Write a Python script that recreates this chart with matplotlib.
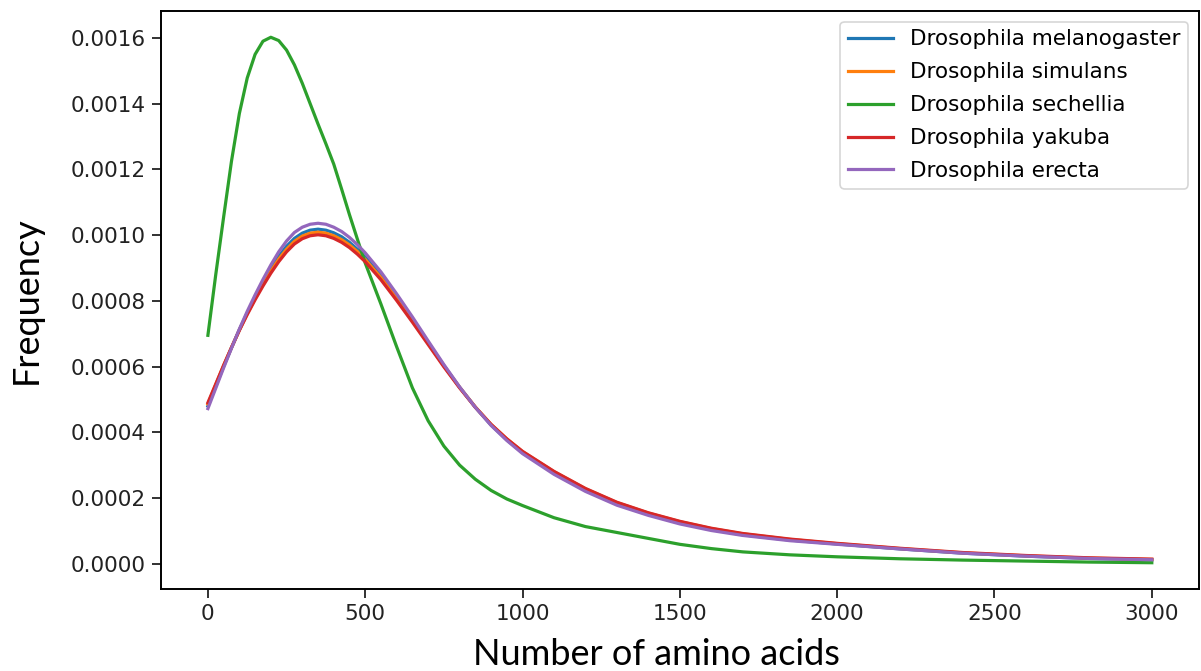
import matplotlib
matplotlib.use("Agg")
import matplotlib.pyplot as plt

x_vals = [0, 25, 50, 75, 100, 125, 150, 175, 200, 225, 250, 275, 300, 325, 350, 375,
          400, 425, 450, 475, 500, 550, 600, 650, 700, 750, 800, 850, 900, 950, 1000,
          1100, 1200, 1300, 1400, 1500, 1600, 1700, 1850, 2000, 2200, 2400, 2600,
          2800, 3000]

melanogaster = [0.000480, 0.000540, 0.000600, 0.000657, 0.000712, 0.000763, 0.000810,
                0.000855, 0.000897, 0.000935, 0.000966, 0.000990, 0.001006, 0.001015,
                0.001018, 0.001015, 0.001007, 0.000995, 0.000978, 0.000957, 0.000933,
                0.000877, 0.000812, 0.000744, 0.000673, 0.000603, 0.000537, 0.000476,
                0.000422, 0.000377, 0.000338, 0.000276, 0.000224, 0.000182, 0.000150,
                0.000124, 0.000104, 0.000088, 0.000072, 0.000060, 0.000045, 0.000032,
                0.000023, 0.000016, 0.000012]
simulans = [0.000486, 0.000545, 0.000603, 0.000658, 0.000711, 0.000761, 0.000807,
            0.000850, 0.000890, 0.000927, 0.000957, 0.000981, 0.000997, 0.001006,
            0.001009, 0.001006, 0.000998, 0.000986, 0.000970, 0.000950, 0.000926,
            0.000871, 0.000807, 0.000740, 0.000671, 0.000602, 0.000537, 0.000477,
            0.000424, 0.000380, 0.000341, 0.000280, 0.000228, 0.000186, 0.000154,
            0.000128, 0.000107, 0.000091, 0.000074, 0.000061, 0.000046, 0.000033,
            0.000024, 0.000017, 0.000013]
sechellia = [0.000695, 0.000880, 0.001055, 0.001225, 0.001370, 0.001478, 0.001550,
             0.001590, 0.001602, 0.001592, 0.001563, 0.001518, 0.001462, 0.001400,
             0.001338, 0.001278, 0.001216, 0.001140, 0.001062, 0.000988, 0.000915,
             0.000790, 0.000660, 0.000535, 0.000435, 0.000358, 0.000300, 0.000257,
             0.000223, 0.000197, 0.000177, 0.000140, 0.000113, 0.000095, 0.000077,
             0.000059, 0.000046, 0.000036, 0.000027, 0.000021, 0.000015, 0.000011,
             0.000008, 0.000005, 0.000003]
yakuba = [0.000490, 0.000547, 0.000604, 0.000658, 0.000710, 0.000758, 0.000803,
          0.000845, 0.000884, 0.000919, 0.000949, 0.000973, 0.000989, 0.000998,
          0.001001, 0.000998, 0.000990, 0.000978, 0.000962, 0.000942, 0.000919,
          0.000864, 0.000801, 0.000735, 0.000667, 0.000599, 0.000535, 0.000476,
          0.000424, 0.000380, 0.000342, 0.000281, 0.000229, 0.000187, 0.000155,
          0.000129, 0.000108, 0.000092, 0.000075, 0.000062, 0.000047, 0.000034,
          0.000025, 0.000018, 0.000014]
erecta = [0.000472, 0.000534, 0.000596, 0.000656, 0.000714, 0.000768, 0.000818,
          0.000865, 0.000909, 0.000949, 0.000982, 0.001008, 0.001024, 0.001033,
          0.001036, 0.001033, 0.001024, 0.001011, 0.000993, 0.000971, 0.000946,
          0.000888, 0.000821, 0.000751, 0.000678, 0.000606, 0.000538, 0.000476,
          0.000421, 0.000375, 0.000335, 0.000272, 0.000220, 0.000178, 0.000147,
          0.000121, 0.000101, 0.000086, 0.000070, 0.000059, 0.000045, 0.000032,
          0.000023, 0.000016, 0.000012]

series_names = ["Drosophila melanogaster", "Drosophila simulans", "Drosophila sechellia",
                "Drosophila yakuba", "Drosophila erecta"]
series_values = [melanogaster, simulans, sechellia, yakuba, erecta]
colors = ["#1f77b4", "#ff7f0e", "#2ca02c", "#d62728", "#9467bd"]

x_ticks = [0, 500, 1000, 1500, 2000, 2500, 3000]
y_ticks = [0.0, 0.0002, 0.0004, 0.0006, 0.0008, 0.0010, 0.0012, 0.0014, 0.0016]

fig = plt.figure(figsize=(12.01, 6.71), dpi=100)
ax = fig.add_axes([160.7 / 1201, (671 - 589) / 671, (1199 - 160.7) / 1201, (589 - 11) / 671])

for name, vals, c in zip(series_names, series_values, colors):
    ax.plot(x_vals, vals, color=c, lw=2.3, label=name, solid_joinstyle="round")

ax.set_xticks(x_ticks)
ax.set_yticks(y_ticks)
ax.set_yticklabels([f"{v:.4f}" for v in y_ticks])
ax.tick_params(labelsize=15.5, length=6.5, width=1.3, pad=4, colors="#222222")
for s in ax.spines.values():
    s.set_linewidth(1.4)

ax.set_xlabel("Number of amino acids", fontsize=26, family="Lato")
ax.xaxis.set_label_coords(0.477, -0.085, transform=ax.transAxes)
ax.xaxis.label.set_va("top")
ax.set_ylabel("Frequency", fontsize=26, family="Lato", labelpad=20)

leg = ax.legend(loc="upper right", fontsize=15.5, handlelength=2.1, labelspacing=0.6,
                borderpad=0.35, borderaxespad=0.5, framealpha=0.8)
leg.get_frame().set_linewidth(1.2)

fig.savefig("out.png", dpi=100)
